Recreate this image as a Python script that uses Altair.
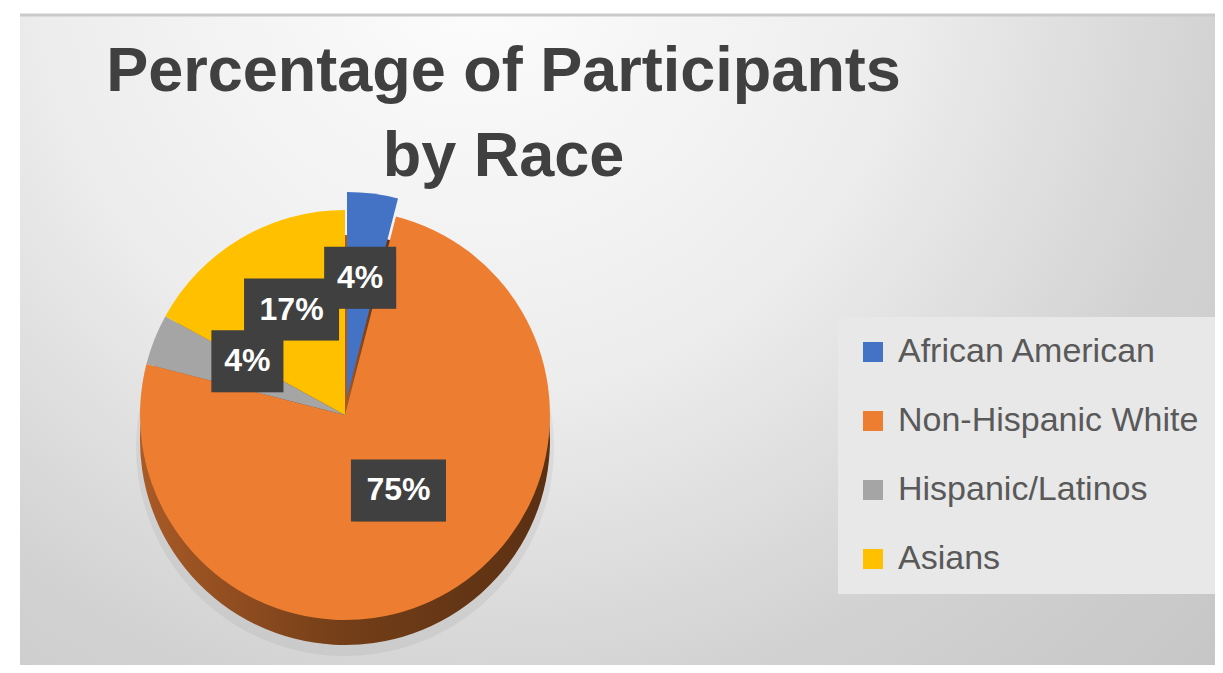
import altair as alt
import pandas as pd

# ---- data ----
races = ["African American", "Non-Hispanic White", "Hispanic/Latinos", "Asians"]
percents = [4, 75, 4, 17]
labels = ["4%", "75%", "4%", "17%"]
colors = ["#4472C4", "#ED7D31", "#A5A5A5", "#FFC000"]
title_lines = ["Percentage of Participants", "by Race"]

df = pd.DataFrame({"race": races, "pct": percents, "label": labels,
                   "idx": list(range(len(races)))})
panel = pd.DataFrame({"panel": ["chart"]})

# ---- layout (pixels, view coordinates) ----
W, H = 1195, 650
CX, CY, R = 325, 400, 205
DEPTH = 25
EX_DX, EX_DY = 2, -18
LR = 105
LABEL_CY = CY - 15

base = alt.Chart(df)
theta = alt.Theta("pct:Q", stack=True)
order = alt.Order("idx:Q")
cx = alt.value(CX)
cy = alt.value(CY)

color = alt.Color(
    "race:N",
    scale=alt.Scale(domain=races, range=colors),
    sort=races,
    legend=alt.Legend(
        title=None, orient="none", legendX=818, legendY=302,
        symbolType="square", symbolSize=400, symbolStrokeWidth=0,
        labelFont="Liberation Sans", labelFontSize=34, labelColor="#595959",
        labelLimit=600, rowPadding=35, labelOffset=8, padding=18,
        fillColor="#e8e8e8",
    ),
)

bg = alt.Chart(panel).mark_rect(
    fill=alt.RadialGradient(
        gradient="radial", x1=0.38, y1=0.18, r1=0, x2=0.38, y2=0.18, r2=0.9,
        stops=[alt.GradientStop(color="#fdfdfd", offset=0),
               alt.GradientStop(color="#ededed", offset=0.4),
               alt.GradientStop(color="#d2d2d2", offset=0.7),
               alt.GradientStop(color="#c4c4c4", offset=1)],
    )
).encode(x=alt.value(0), x2=alt.value(W), y=alt.value(0), y2=alt.value(H))

top_line = alt.Chart(panel).mark_rule(color="#cacaca", strokeWidth=3).encode(
    x=alt.value(0), x2=alt.value(W), y=alt.value(0))

shadow = base.mark_arc(radius=R + 4, color="#000000", opacity=0.05,
                       yOffset=DEPTH + 7).encode(theta=theta, order=order, x=cx, y=cy)

side = base.mark_arc(
    radius=R, yOffset=DEPTH,
    fill=alt.LinearGradient(
        gradient="linear", x1=0, y1=0, x2=1, y2=0,
        stops=[alt.GradientStop(color="#a95a27", offset=0),
               alt.GradientStop(color="#733e18", offset=0.5),
               alt.GradientStop(color="#5a3013", offset=1)],
    ),
).encode(theta=theta, order=order, x=cx, y=cy)

top = base.mark_arc(radius=R).encode(
    theta=theta, order=order, color=color, x=cx, y=cy,
    opacity=alt.condition(alt.datum.race == races[0], alt.value(0), alt.value(1)),
)

exploded = base.mark_arc(radius=R, xOffset=EX_DX, yOffset=EX_DY).encode(
    theta=theta, order=order, color=color, x=cx, y=cy,
    opacity=alt.condition(alt.datum.race == races[0], alt.value(1), alt.value(0)),
)

lab = base.transform_window(
    cum="sum(pct)", sort=[alt.SortField("idx")]
).transform_joinaggregate(
    total="sum(pct)"
).transform_calculate(
    mid="(datum.cum - datum.pct / 2) / datum.total * 2 * PI",
    ex=f"datum.race == '{races[0]}' ? {EX_DX} : 0",
    ey=f"datum.race == '{races[0]}' ? {EX_DY} : 0",
    lx=f"{CX} + {LR} * sin(datum.mid) + datum.ex",
    ly=f"{LABEL_CY} - {LR} * cos(datum.mid) + datum.ey",
    bw="26 + 23 * length(datum.label)",
    bx1="datum.lx - datum.bw / 2",
    bx2="datum.lx + datum.bw / 2",
    by1="datum.ly - 31",
    by2="datum.ly + 31",
)

box_enc = dict(
    x=alt.X("bx1:Q", scale=None, axis=None), x2="bx2:Q",
    y=alt.Y("by1:Q", scale=None, axis=None), y2="by2:Q",
)
box_shadow = lab.mark_rect(color="#000000", opacity=0.22, xOffset=5, yOffset=6).encode(**box_enc)
box = lab.mark_rect(color="#404040").encode(**box_enc)
text = lab.mark_text(
    color="#ffffff", font="Liberation Sans", fontWeight="bold",
    fontSize=32, align="center", baseline="middle",
).encode(
    x=alt.X("lx:Q", scale=None, axis=None),
    y=alt.Y("ly:Q", scale=None, axis=None),
    text="label:N",
)

chart = alt.layer(
    bg, top_line, shadow, side, top, exploded, box_shadow, box, text
).properties(
    width=W, height=H,
    padding={"left": 12, "top": 7, "right": 0, "bottom": 0},
    autosize=alt.AutoSizeParams(type="none"),
    title=alt.TitleParams(
        text=title_lines, font="Liberation Sans", fontSize=63, fontWeight="bold",
        color="#404040", lineHeight=85, anchor="middle", frame="group",
        baseline="top", offset=0, dx=-114, dy=175,
    ),
    background="#ffffff",
).configure_view(strokeWidth=0).resolve_scale(x="independent", y="independent")

chart.save("out.html", embed_options={"renderer": "svg", "actions": False})
